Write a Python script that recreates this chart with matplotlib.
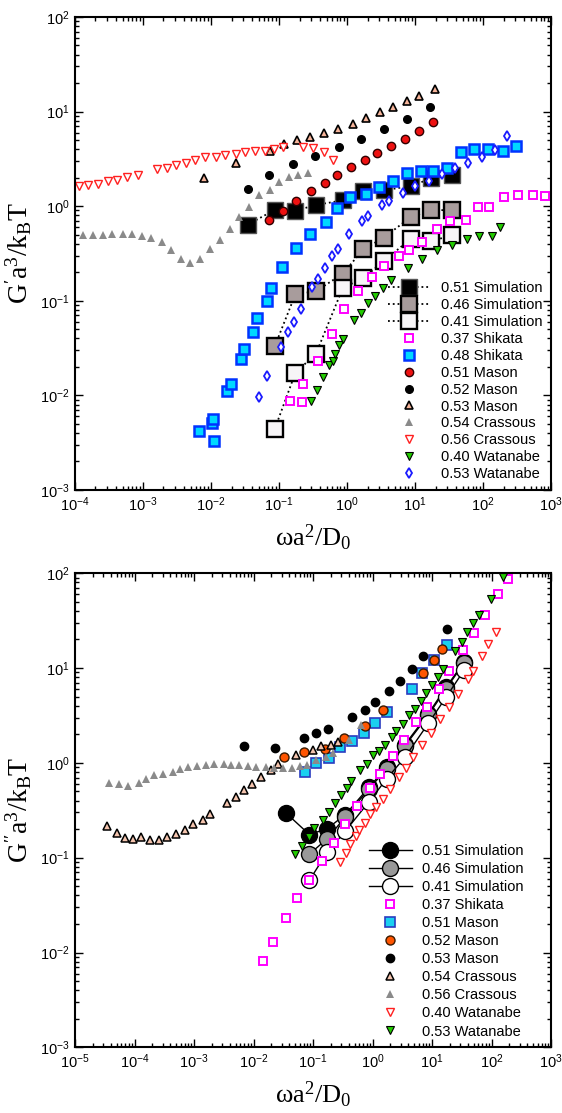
import numpy as np
import matplotlib
matplotlib.use("Agg")
import matplotlib.pyplot as plt
from matplotlib.ticker import LogLocator, NullFormatter

plt.rcParams["font.family"] = ["Liberation Sans", "DejaVu Sans"]
plt.rcParams["mathtext.fontset"] = "custom"
plt.rcParams["mathtext.rm"] = "Liberation Serif"
plt.rcParams["mathtext.it"] = "Liberation Serif:italic"

# ---------------- data: storage modulus G' (top) ----------------
sim_w = [0.0345, 0.087, 0.174, 0.35, 0.865, 1.74, 3.48, 8.65, 17.3, 34.6]
top_sim051 = [0.636, 0.916, 0.894, 1.03, 1.15, 1.43, 1.47, 1.63, 1.96, 2.11]
top_sim046 = [0.0333, 0.117, 0.126, 0.193, 0.35, 0.465, 0.766, 0.916, 0.90]
top_sim041 = [0.00446, 0.0173, 0.0276, 0.136, 0.174, 0.262, 0.453, 0.427, 0.49]

top_shk037_w = [0.143, 0.218, 0.228, 0.371, 0.596, 0.912, 1.45, 2.31, 3.54, 5.76, 8.24,
                12.8, 20.8, 32.7, 56.2, 83.6, 124, 204, 326, 543, 811]
top_shk037 = [0.00867, 0.00852, 0.0131, 0.0229, 0.0445, 0.081, 0.126, 0.178, 0.235, 0.294, 0.34,
              0.417, 0.571, 0.689, 0.706, 0.99, 0.99, 1.24, 1.32, 1.32, 1.29]

top_shk048_w = [0.0067, 0.0105, 0.0108, 0.0111, 0.0174, 0.0197, 0.0273, 0.0306, 0.0419, 0.048,
                0.0659, 0.0762, 0.112, 0.178, 0.282, 0.485, 0.705, 1.11, 1.88, 2.99, 4.8, 7.55,
                12.1, 18.6, 29.9, 47, 73.8, 120, 195, 305]
top_shk048 = [0.00415, 0.0051, 0.00569, 0.0033, 0.0111, 0.0131, 0.024, 0.0312, 0.0468, 0.0663,
              0.1, 0.137, 0.227, 0.364, 0.511, 0.678, 0.953, 1.24, 1.33, 1.59, 1.84, 2.25,
              2.38, 2.38, 2.5, 3.71, 3.97, 3.97, 3.81, 4.3]

top_mas051_w = [0.0713, 0.116, 0.18, 0.292, 0.47, 0.72, 1.16, 1.82, 2.79, 4.44, 7.13, 11.3, 18.2]
top_mas051 = [0.718, 0.885, 1.13, 1.43, 1.75, 2.15, 2.61, 3.04, 3.63, 4.3, 5.1, 6.25, 7.7]

top_mas052_w = [0.0347, 0.0721, 0.162, 0.342, 0.762, 1.62, 3.54, 7.55, 16.8]
top_mas052 = [1.53, 2.12, 2.76, 3.37, 4.17, 5.1, 6.46, 8.3, 11.1]

top_mas053_w = [0.0079, 0.0231, 0.0738, 0.12, 0.186, 0.288, 0.463, 0.738, 1.21, 1.90, 3.05,
                4.69, 7.71, 11.6, 19.7]
top_mas053 = [1.98, 2.85, 3.87, 4.56, 5.06, 5.35, 6.0, 6.57, 7.34, 8.49, 9.84, 11.1, 12.8, 14.7, 17.2]

top_cra054_w = [1.3e-4, 1.82e-4, 2.55e-4, 3.5e-4, 5.0e-4, 6.97e-4, 9.6e-4, 1.33e-3, 1.88e-3,
                2.61e-3, 3.66e-3, 4.96e-3, 6.96e-3, 9.77e-3, 0.0136, 0.019, 0.026, 0.0358,
                0.0513, 0.0745, 0.099, 0.139, 0.192, 0.267]
top_cra054 = [0.49, 0.49, 0.49, 0.506, 0.506, 0.506, 0.482, 0.456, 0.417, 0.34, 0.278, 0.25,
              0.273, 0.349, 0.438, 0.577, 0.766, 0.985, 1.32, 1.49, 1.82, 2.02, 2.14, 2.25]

top_cra056_w = [1.15e-4, 1.57e-4, 2.16e-4, 3.03e-4, 4.19e-4, 5.75e-4, 8.4e-4, 1.59e-3, 2.23e-3,
                3.05e-3, 4.25e-3, 5.9e-3, 8.2e-3, 0.0119, 0.0162, 0.0231, 0.0319, 0.044, 0.0616,
                0.0836, 0.1146, 0.228, 0.313, 0.463, 0.63]
top_cra056 = [1.63, 1.68, 1.72, 1.85, 1.91, 2.02, 2.12, 2.44, 2.54, 2.71, 2.89, 3.09, 3.29, 3.29,
              3.49, 3.57, 3.69, 3.78, 3.85, 3.97, 4.17, 4.24, 4.14, 3.72, 3.09]

top_wat040_w = [0.292, 0.362, 0.439, 0.55, 0.615, 0.673, 0.762, 0.883, 1.28, 1.61, 2.04, 2.55,
                3.35, 4.44, 7.82, 12.7, 20.8, 35.4, 58.8, 86.3, 137, 178]
top_wat040 = [0.00867, 0.0115, 0.0156, 0.0208, 0.0229, 0.0276, 0.0344, 0.0398, 0.0621, 0.0742,
              0.0946, 0.111, 0.137, 0.167, 0.221, 0.278, 0.34, 0.391, 0.445, 0.486, 0.486, 0.6]

top_wat053_w = [0.0513, 0.0667, 0.107, 0.134, 0.168, 0.211, 0.302, 0.371, 0.48, 0.601, 0.745,
                1.07, 1.68, 2.04, 3.27, 4.19, 6.58, 10, 15.9, 24.7, 39.2, 60.2, 95.6, 152, 228]
top_wat053 = [0.0096, 0.0159, 0.0324, 0.0468, 0.0596, 0.0817, 0.14, 0.171, 0.221, 0.294, 0.355,
              0.502, 0.689, 0.784, 1.02, 1.12, 1.37, 1.63, 1.84, 2.18, 2.5, 2.87, 3.29, 3.9, 5.45]

# ---------------- data: loss modulus G'' (bottom) ----------------
bot_sim051 = [0.299, 0.175, 0.203, 0.285, 0.55, 0.90, 1.55, 3.3, 6.3, 11.6]
bot_sim046 = [0.109, 0.159, 0.27, 0.527, 0.871, 1.5, 3.18, 6.08, 11.3]
bot_sim041 = [0.0578, 0.115, 0.191, 0.387, 0.683, 1.14, 2.6, 4.95, 9.5]

bot_shk037_w = [0.0142, 0.0215, 0.0355, 0.0547, 0.0848, 0.144, 0.228, 0.349, 0.54, 0.915, 1.36,
                2.25, 3.35, 5.4, 8.13, 12.9, 19.5, 32.6, 51.2, 78.2, 129, 192]
bot_shk037 = [0.00813, 0.0129, 0.023, 0.0379, 0.0578, 0.0923, 0.143, 0.229, 0.348, 0.548, 0.764,
              1.18, 1.76, 2.7, 3.89, 6.08, 9.25, 15.4, 23.4, 36.1, 60, 86.4]

bot_mas051_w = [0.0726, 0.114, 0.183, 0.28, 0.457, 0.714, 1.12, 1.74, 4.55, 6.79, 10.9, 17.6]
bot_mas051 = [0.802, 0.998, 1.13, 1.47, 1.72, 2.07, 2.6, 3.42, 6.08, 8.87, 12.1, 17.4]

bot_mas052_w = [0.0327, 0.0698, 0.157, 0.336, 0.734, 1.49, 6.96, 10.9, 14.7]
bot_mas052 = [1.14, 1.30, 1.39, 1.85, 2.43, 3.59, 8.87, 12.1, 15.9]

bot_mas053_w = [0.0069, 0.0231, 0.0718, 0.114, 0.181, 0.45, 0.734, 1.12, 1.87, 2.94, 4.62, 6.96, 17.6]
bot_mas053 = [1.51, 1.45, 1.85, 2.04, 2.3, 3.03, 3.65, 4.43, 5.69, 7.31, 9.71, 13.4, 25.8]

bot_cra054_w = [3.46e-5, 5.15e-5, 6.83e-5, 9.29e-5, 1.3e-4, 1.84e-4, 2.54e-4, 3.54e-4, 5.07e-4,
                7.1e-4, 9.66e-4, 1.4e-3, 1.88e-3, 3.54e-3, 5.01e-3, 6.98e-3, 9.4e-3, 0.0136,
                0.0195, 0.0259, 0.0513, 0.1, 0.135, 0.198, 0.262]
bot_cra054 = [0.216, 0.184, 0.161, 0.156, 0.166, 0.155, 0.155, 0.166, 0.178, 0.198, 0.225, 0.248,
              0.292, 0.378, 0.437, 0.522, 0.594, 0.71, 0.849, 0.966, 1.21, 1.38, 1.51, 1.53, 1.65]

bot_cra056_w = [3.79e-5, 5.42e-5, 7.78e-5, 1.17e-4, 1.58e-4, 2.15e-4, 3.04e-4, 4.35e-4, 5.92e-4,
                8.05e-4, 1.13e-3, 1.61e-3, 2.15e-3, 3.16e-3, 4.18e-3, 5.69e-3, 8.14e-3, 0.0111,
                0.016, 0.0217, 0.0314, 0.044, 0.0598, 0.0794, 0.111, 0.163, 0.216, 0.4, 0.64]
bot_cra056 = [0.62, 0.598, 0.574, 0.62, 0.676, 0.745, 0.763, 0.802, 0.855, 0.899, 0.927, 0.944,
              0.966, 0.966, 0.951, 0.951, 0.936, 0.914, 0.914, 0.892, 0.884, 0.884, 0.927, 0.959,
              1.06, 1.15, 1.27, 1.75, 2.5]

bot_wat040_w = [0.288, 0.362, 0.412, 0.519, 0.583, 0.755, 0.915, 1.15, 1.49, 1.93, 2.83, 3.67,
                4.86, 6.7, 9.62, 13.6, 19.5, 27.6, 39.5, 49.2, 68.8, 87.7, 118]
bot_wat040 = [0.0902, 0.112, 0.138, 0.168, 0.198, 0.232, 0.292, 0.345, 0.42, 0.526, 0.71, 0.891,
              1.15, 1.56, 2.04, 2.88, 3.89, 5.38, 7.57, 9.31, 13.3, 17.8, 23.7]

bot_wat053_w = [0.0493, 0.064, 0.0857, 0.105, 0.147, 0.183, 0.237, 0.294, 0.371, 0.44, 0.622,
                0.803, 1.01, 1.26, 1.59, 2.1, 2.52, 3.22, 4.06, 5.19, 6.54, 8.02, 9.84, 12.8,
                15.3, 24.3, 31.3, 38.5, 48.6, 62, 97.2, 158]
bot_wat053 = [0.109, 0.134, 0.165, 0.206, 0.252, 0.306, 0.375, 0.458, 0.548, 0.64, 0.836, 0.966,
              1.2, 1.32, 1.56, 1.88, 2.15, 2.55, 3.23, 3.74, 4.47, 5.46, 6.59, 8.06, 9.71, 15.1,
              18.8, 24.0, 30.2, 36.6, 53.6, 90.1]


def style_axes(ax, xlo):
    ax.set_xscale("log")
    ax.set_yscale("log")
    ax.set_xlim(xlo, 1e3)
    ax.set_ylim(1e-3, 1e2)
    for a in (ax.xaxis, ax.yaxis):
        a.set_major_locator(LogLocator(base=10, numticks=20))
        a.set_minor_locator(LogLocator(base=10, subs=np.arange(2, 10), numticks=200))
        a.set_minor_formatter(NullFormatter())
    ax.tick_params(which="both", direction="in", top=True, right=True, width=1)
    ax.tick_params(which="major", length=6, labelsize=10.5, pad=4)
    ax.tick_params(which="minor", length=3)
    for s in ax.spines.values():
        s.set_linewidth(1.5)


fig = plt.figure(figsize=(5.62, 11.13), dpi=100)
ax1 = fig.add_axes([0.1335, 0.5598, 0.847, 0.425])
ax2 = fig.add_axes([0.1335, 0.059, 0.847, 0.426])

# ---------------- top panel ----------------
sq = dict(marker="s", ms=11.5, ls=":", lw=1.3, color="black")
ax1.plot(sim_w, top_sim051, mfc="black", mec="#555555", mew=1, label="0.51 Simulation", **sq)
ax1.plot(sim_w[1:], top_sim046, mfc="#a89c9c", mec="black", mew=1.7, label="0.46 Simulation", **sq)
ax1.plot(sim_w[1:], top_sim041, mfc="#f7f5f7", mec="black", mew=1.7, label="0.41 Simulation", **sq)

ax1.plot(top_shk037_w, top_shk037, ls="none", marker="s", ms=5.5, mfc="white", mec="#ff00ff", mew=1.4, label="0.37 Shikata")
ax1.plot(top_shk048_w, top_shk048, ls="none", marker="s", ms=6.5, mfc="#00d8ff", mec="#0033ff", mew=1.8, label="0.48 Shikata")
ax1.plot(top_mas051_w, top_mas051, ls="none", marker="o", ms=6, mfc="#ee1111", mec="#300000", mew=1, label="0.51 Mason")
ax1.plot(top_mas052_w, top_mas052, ls="none", marker="o", ms=5.5, mfc="black", mec="black", label="0.52 Mason")
ax1.plot(top_mas053_w, top_mas053, ls="none", marker="^", ms=5.5, mfc="#f6b49a", mec="black", mew=1.2, label="0.53 Mason")
ax1.plot(top_cra054_w, top_cra054, ls="none", marker="^", ms=5.5, mfc="#8a8a8a", mec="#8a8a8a", mew=0, label="0.54 Crassous")
ax1.plot(top_cra056_w, top_cra056, ls="none", marker="v", ms=5.5, mfc="white", mec="#ff2020", mew=1, label="0.56 Crassous")
ax1.plot(top_wat040_w, top_wat040, ls="none", marker="v", ms=5.5, mfc="#22cc00", mec="black", mew=0.8, label="0.40 Watanabe")
ax1.plot(top_wat053_w, top_wat053, ls="none", marker="d", ms=5, mfc="white", mec="#1a1aff", mew=1.3, label="0.53 Watanabe")

style_axes(ax1, 1e-4)
ax1.set_xlabel(r"$\mathrm{\omega a^2/D_0}$", fontsize=19, labelpad=6)
ax1.set_ylabel(r"$\mathrm{G'a^3/k_B T}$", fontsize=20, labelpad=4)
ax1.legend(loc="lower right", bbox_to_anchor=(1.0, 0.0), frameon=False, fontsize=10.5,
           labelspacing=0.2, handlelength=2.8, handletextpad=0.8, borderaxespad=0.3,
           borderpad=0.3)

# ---------------- bottom panel ----------------
ci = dict(marker="o", ms=11.5, ls="-", lw=1, color="black", mec="black", mew=1)
ax2.plot(sim_w, bot_sim051, mfc="black", label="0.51 Simulation", **ci)
ax2.plot(sim_w[1:], bot_sim046, mfc="#999999", label="0.46 Simulation", **ci)
ax2.plot(sim_w[1:], bot_sim041, mfc="white", label="0.41 Simulation", **ci)

ax2.plot(bot_shk037_w, bot_shk037, ls="none", marker="s", ms=5.5, mfc="white", mec="#ff00ff", mew=1.4, label="0.37 Shikata")
ax2.plot(bot_mas051_w, bot_mas051, ls="none", marker="s", ms=6.5, mfc="#1ad0f0", mec="#2a3cc0", mew=1.2, label="0.51 Mason")
ax2.plot(bot_mas052_w, bot_mas052, ls="none", marker="o", ms=6.5, mfc="#ff5500", mec="#3a1a00", mew=1, label="0.52 Mason")
ax2.plot(bot_mas053_w, bot_mas053, ls="none", marker="o", ms=6, mfc="black", mec="black", label="0.53 Mason")
ax2.plot(bot_cra054_w, bot_cra054, ls="none", marker="^", ms=5.5, mfc="#f4c4ae", mec="black", mew=1.1, label="0.54 Crassous")
ax2.plot(bot_cra056_w, bot_cra056, ls="none", marker="^", ms=5.5, mfc="#8a8a8a", mec="#8a8a8a", mew=0, label="0.56 Crassous")
ax2.plot(bot_wat040_w, bot_wat040, ls="none", marker="v", ms=5.5, mfc="white", mec="#ff2020", mew=1, label="0.40 Watanabe")
ax2.plot(bot_wat053_w, bot_wat053, ls="none", marker="v", ms=5.5, mfc="#22cc00", mec="black", mew=0.8, label="0.53 Watanabe")

style_axes(ax2, 1e-5)
ax2.set_xlabel(r"$\mathrm{\omega a^2/D_0}$", fontsize=19, labelpad=6)
ax2.set_ylabel(r"$\mathrm{G''a^3/k_B T}$", fontsize=20, labelpad=4)
ax2.legend(loc="lower right", bbox_to_anchor=(0.96, 0.0), frameon=False, fontsize=10.5,
           labelspacing=0.28, handlelength=2.9, handletextpad=0.7, borderaxespad=0.3,
           borderpad=0.3)

fig.savefig("out.png", dpi=100)
